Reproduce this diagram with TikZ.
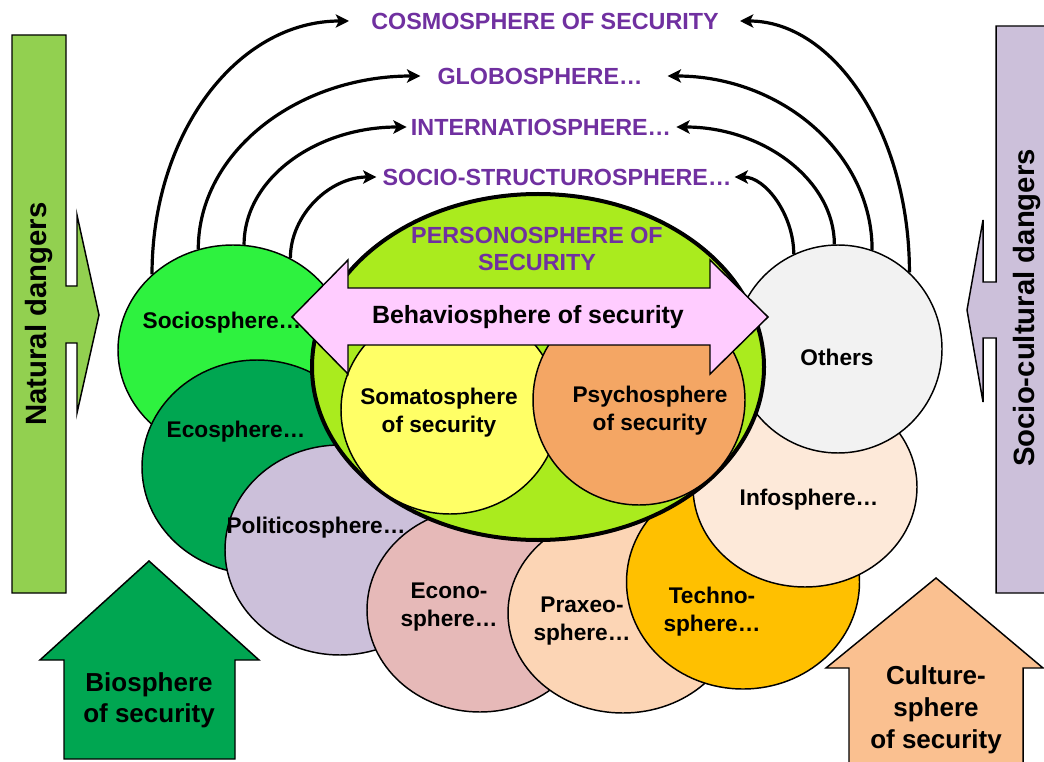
\documentclass[tikz,border=0pt]{standalone}
\usepackage{fontspec}
\setmainfont{Liberation Sans}
\usepackage{tikz}
\usepackage{xcolor}
\usetikzlibrary{shapes.geometric,arrows.meta,backgrounds}

\definecolor{natgreen}{RGB}{146,208,80}
\definecolor{lavender}{RGB}{204,192,218}
\definecolor{biogreen}{RGB}{0,166,81}
\definecolor{peach}{RGB}{250,192,144}
\definecolor{sociogreen}{RGB}{46,242,63}
\definecolor{econopink}{RGB}{230,185,184}
\definecolor{praxeopeach}{RGB}{252,213,181}
\definecolor{technoamber}{RGB}{255,192,0}
\definecolor{infopeach}{RGB}{253,233,217}
\definecolor{othersgrey}{RGB}{242,242,242}
\definecolor{personlime}{RGB}{170,235,30}
\definecolor{somayellow}{RGB}{255,255,102}
\definecolor{psychoorange}{RGB}{244,166,100}
\definecolor{behavpink}{RGB}{255,204,255}
\definecolor{spherepurple}{RGB}{112,48,160}

\tikzset{
	sphere/.style={ellipse, draw=black, line width=1.1pt, inner sep=0pt},
	lbl/.style={inner sep=0pt, align=center, font=\bfseries\fontsize{17}{21}\selectfont},
	toplbl/.style={inner sep=0pt, text=spherepurple, font=\bfseries\fontsize{17.5}{21}\selectfont},
	bigarrow/.style={draw=black, line width=1.1pt},
	conn/.style={line width=2.4pt, -{Stealth[length=10pt,width=10pt,inset=2.5pt]}}
}

\begin{document}
\begin{tikzpicture}[x=0.75pt,y=0.75pt,yscale=-1,xscale=1]
			\useasboundingbox (0,0) rectangle (1044,762);
	
			% Shape: Natural dangers bar
			\draw[bigarrow, fill=natgreen] (12,35) -- (66,35) -- (66,286) -- (77,286) -- (77,215) -- (99,315) -- (77,413) -- (77,343) -- (66,343) -- (66,593) -- (12,593) -- cycle;
			% Text Node
			\node[lbl, rotate=90, font=\bfseries\fontsize{22}{26}\selectfont] (natT) at (39,314) {Natural dangers};
			% Shape: Socio-cultural dangers bar
			\draw[bigarrow, fill=lavender] (1060,26) -- (996,26) -- (996,282) -- (983,282) -- (983,220) -- (967,310) -- (983,402) -- (983,338) -- (996,338) -- (996,593) -- (1060,593);
			% Text Node
			\node[lbl, rotate=90, font=\bfseries\fontsize{22}{26}\selectfont] (socT) at (1027,308) {Socio-cultural dangers};
			% Shape: Biosphere arrow
			\draw[bigarrow, fill=biogreen] (149,561) -- (259,660) -- (235,660) -- (235,759) -- (64,759) -- (64,660) -- (40,660) -- cycle;
			% Text Node
			\node[lbl, font=\bfseries\fontsize{19.5}{23.5}\selectfont] (bioT) at (149,700) {Biosphere\\of security};
			% Shape: Culturesphere arrow
			\draw[bigarrow, fill=peach] (936,578) -- (1043,668) -- (1023,668) -- (1023,775) -- (849,775) -- (849,668) -- (826,668) -- cycle;
			% Text Node
			\node[lbl, font=\bfseries\fontsize{19.5}{24}\selectfont] (culT) at (936,710) {Culture-\\sphere\\of security};
	
			% Text Node
			\node[toplbl] (cosmo) at (545,21) {COSMOSPHERE OF SECURITY};
			% Text Node
			\node[toplbl] (globo) at (540,76) {GLOBOSPHERE…};
			% Text Node
			\node[toplbl] (internatio) at (541,127) {INTERNATIOSPHERE…};
			% Text Node
			\node[toplbl] (structuro) at (557,177) {SOCIO-STRUCTUROSPHERE…};
	
			% Spheres
			\node[sphere, fill=sociogreen, minimum width=172.5pt, minimum height=157.5pt] (socio) at (233,350) {};
			\node[lbl] (socioT) at (222,323) {Sociosphere…};
			\node[sphere, fill=biogreen, minimum width=172.5pt, minimum height=160.5pt] (eco) at (257,467) {};
			\node[lbl] (ecoT) at (236,432) {Ecosphere…};
			\node[sphere, fill=lavender, minimum width=172.5pt, minimum height=157.5pt] (politico) at (340,550) {};
			\node[lbl] (politicoT) at (316,528) {Politicosphere…};
			\node[sphere, fill=econopink, minimum width=169.5pt, minimum height=153pt] (econo) at (480,610) {};
			\node[lbl] (econoT) at (449,607) {Econo-\\sphere…};
			\node[sphere, fill=praxeopeach, minimum width=172.5pt, minimum height=150pt] (praxeo) at (623,613) {};
			\node[lbl] (praxeoT) at (582,621) {Praxeo-\\sphere…};
			\node[sphere, fill=technoamber, minimum width=174.75pt, minimum height=160.5pt] (techno) at (743,582) {};
			\node[lbl] (technoT) at (712,612) {Techno-\\sphere…};
			\node[sphere, fill=infopeach, minimum width=168pt, minimum height=150pt] (info) at (805,487) {};
			\node[lbl] (infoT) at (809,500) {Infosphere…};
			\node[sphere, fill=othersgrey, minimum width=156pt, minimum height=156pt] (others) at (838,349) {};
			\node[lbl] (othersT) at (837,357) {Others};
	
			% Personosphere
			\node[sphere, fill=personlime, line width=3pt, minimum width=339pt, minimum height=259.5pt] (person) at (538,367) {};
			\node[sphere, fill=somayellow, minimum width=163.5pt, minimum height=156pt] (soma) at (450,410) {};
			\node[lbl] (somaT) at (439,413) {Somatosphere\\of security};
			\node[sphere, fill=psychoorange, minimum width=159pt, minimum height=157.5pt] (psycho) at (639,400) {};
			\node[lbl] (psychoT) at (650,411) {Psychosphere\\of security};
			\node[toplbl, align=center, font=\bfseries\fontsize{17.5}{20}\selectfont] (personT) at (537,249) {PERSONOSPHERE OF\\SECURITY};
	
			% Shape: Behaviosphere arrow
			\draw[bigarrow, fill=behavpink] (292,317) -- (348,260) -- (348,288) -- (710,288) -- (710,260) -- (768,317) -- (710,374) -- (710,345) -- (348,345) -- (348,374) -- cycle;
			% Text Node
			\node[lbl, font=\bfseries\fontsize{18.7}{22}\selectfont] (behavT) at (528,317) {Behaviosphere of security};
	
			\begin{scope}[on background layer]
			% Connection
			\draw[conn] (socio.137) .. controls +(0,-141) and +(-112,0) .. ([xshift=-16.5pt]cosmo.west);
			% Connection
			\draw[conn] (socio.109) .. controls +(0,-97) and +(-123,0) .. ([xshift=-12.75pt]globo.west);
			% Connection
			\draw[conn] (socio.84) .. controls +(0,-66) and +(-91,0) .. ([xshift=-3pt]internatio.west);
			% Connection
			\draw[conn] (socio.58) .. controls +(0,-43) and +(-47,0) .. ([xshift=-4.5pt]structuro.west);
			% Connection
			\draw[conn] (others.47) .. controls +(0,-139) and +(94,0) .. ([xshift=15.75pt]cosmo.east);
			% Connection
			\draw[conn] (others.71) .. controls +(0,-97) and +(113,0) .. ([xshift=18.75pt]globo.east);
			% Connection
			\draw[conn] (others.92) .. controls +(0,-64) and +(87,0) .. ([xshift=3.75pt]internatio.east);
			% Connection
			\draw[conn] (others.115) .. controls +(0,-39) and +(31,0) .. ([xshift=2.25pt]structuro.east);
			\end{scope}
\end{tikzpicture}
\end{document}
